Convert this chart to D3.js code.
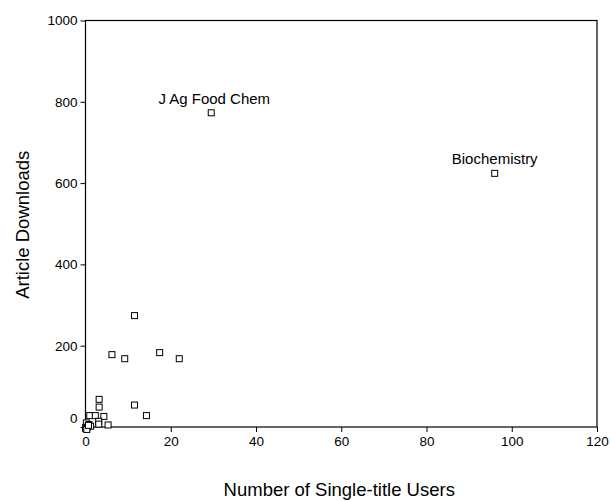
<!DOCTYPE html>
<html>
<head>
<meta charset="utf-8">
<script src="https://cdn.jsdelivr.net/npm/d3@7"></script>
<style>
  body { margin: 0; background: #fff; }
  svg text { font-family: "Liberation Sans", Arial, sans-serif; fill: #000; }
</style>
</head>
<body>
<svg id="chart" width="610" height="501"></svg>
<script>
// single-title users (x) vs article downloads (y)
var users = [29.5, 96, 11.5, 6.2, 9.2, 17.4, 22, 3.2, 3.2, 11.5, 14.3,
             1.0, 2.3, 4.3, 3.1, 3.1, 5.3, 0.4, 0.2, 0.8, 0, 0.5, 1.2, 0.1, 0.3, 0.7];
var downloads = [773, 624, 274, 178, 168, 183, 168, 68, 49, 54, 28,
                 28, 28, 26, 14, 7, 5, 3, 10, 6, -2, 0, 2, -4, -6, 4];
var labels = [{i: 0, text: "J Ag Food Chem"}, {i: 1, text: "Biochemistry"}];
var xTicks = [0, 20, 40, 60, 80, 100, 120];
var yTicks = [0, 200, 400, 600, 800, 1000];

var svg = d3.select("#chart");
var plotL = 85.5, plotR = 597, plotT = 20.5, plotB = 427;

var xScale = d3.scaleLinear().domain([0, 120]).range([plotL, plotR]);
var yScale = d3.scaleLinear().domain([0, 1000]).range([plotB, plotT]);

// frame
svg.append("rect")
  .attr("x", plotL).attr("y", plotT)
  .attr("width", plotR - plotL).attr("height", plotB - plotT)
  .attr("fill", "none").attr("stroke", "#000").attr("stroke-width", 1.2);

var xAxis = d3.axisBottom(xScale).tickValues(xTicks).tickFormat(d3.format("d")).tickSize(5).tickPadding(4);
var yAxis = d3.axisLeft(yScale).tickValues(yTicks).tickFormat(d3.format("d")).tickSize(5).tickPadding(3);

svg.append("g")
  .attr("class", "x axis")
  .attr("transform", "translate(0," + plotB + ")")
  .call(xAxis)
  .call(function (g) { g.select(".domain").remove(); })
  .selectAll("text").style("font-size", "13.5px");

svg.append("g")
  .attr("class", "y axis")
  .attr("transform", "translate(" + plotL + ",0)")
  .call(yAxis)
  .call(function (g) { g.select(".domain").remove(); })
  .selectAll("text").style("font-size", "13.5px")
  .attr("dy", function (d) { return d == 0 ? "-0.3em" : "0.32em"; });

svg.selectAll(".tick line").attr("stroke", "#000");

// points
var data = users.map(function (u, i) { return [u, downloads[i]]; });
svg.selectAll("rect.pt")
  .data(data).enter()
  .append("rect")
  .attr("class", "pt")
  .attr("x", function (d) { return xScale(d[0]) - 3; })
  .attr("y", function (d) { return yScale(d[1]) - 3; })
  .attr("width", 6)
  .attr("height", 6)
  .attr("fill", "#fff")
  .attr("stroke", "#000")
  .attr("stroke-width", 1);

// point labels
svg.selectAll("text.lbl")
  .data(labels).enter()
  .append("text")
  .attr("class", "lbl")
  .attr("x", function (d) { return xScale(users[d.i]) + (d.i == 0 ? 3 : 0); })
  .attr("y", function (d) { return yScale(downloads[d.i]) - 9; })
  .attr("text-anchor", "middle")
  .style("font-size", "15px")
  .text(function (d) { return d.text; });

// axis titles
svg.append("text")
  .attr("x", (plotL + plotR) / 2 - 2)
  .attr("y", 496)
  .attr("text-anchor", "middle")
  .style("font-size", "18.5px")
  .text("Number of Single-title Users");

svg.append("text")
  .attr("transform", "translate(29," + ((plotT + plotB) / 2 + 1) + ") rotate(-90)")
  .attr("text-anchor", "middle")
  .style("font-size", "18.5px")
  .text("Article Downloads");
</script>
</body>
</html>
